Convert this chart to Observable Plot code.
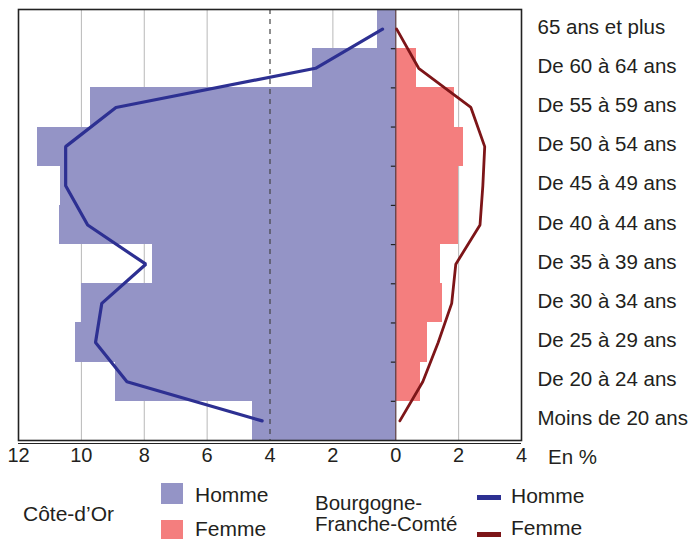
<!DOCTYPE html>
<html><head><meta charset="utf-8">
<script src="https://cdn.jsdelivr.net/npm/d3@7"></script>
<script src="https://cdn.jsdelivr.net/npm/@observablehq/plot@0.6"></script>
<style>
body{margin:0;background:#fff;font-family:"Liberation Sans",Arial,sans-serif;color:#231f20}
#wrap{position:relative;width:694px;height:539px;overflow:hidden}
.t{position:absolute;font-size:21px;white-space:nowrap}
.sw{position:absolute}
</style></head><body><div id="wrap"></div>
<script>
const ages = ["Moins de 20 ans","De 20 à 24 ans","De 25 à 29 ans","De 30 à 34 ans","De 35 à 39 ans","De 40 à 44 ans","De 45 à 49 ans","De 50 à 54 ans","De 55 à 59 ans","De 60 à 64 ans","65 ans et plus"];
const hommeCO  = [4.55, 8.9, 10.2, 10.0, 7.75, 10.7, 10.65, 11.4, 9.7, 2.65, 0.57];
const femmeCO  = [0, 0.8, 1.0, 1.5, 1.43, 2.0, 2.0, 2.17, 1.88, 0.67, 0];
const hommeBFC = [4.25, 8.55, 9.55, 9.35, 7.95, 9.8, 10.5, 10.5, 8.9, 2.55, 0.42];
const femmeBFC = [0.13, 0.86, 1.35, 1.78, 1.91, 2.68, 2.77, 2.83, 2.39, 0.73, 0.03];
const xTicks = [-12,-10,-8,-6,-4,-2,0,2,4];
const gridTicks = [-10,-8,-6,-2,2];
const refTick = [-4];

const data = ages.map((age,i)=>({age,i,hCO:hommeCO[i],fCO:femmeCO[i],hBFC:hommeBFC[i],fBFC:femmeBFC[i]}));
const font = '"Liberation Sans", Arial, sans-serif';

const plot = Plot.plot({
  width:694, height:470, marginLeft:18, marginRight:173, marginTop:9, marginBottom:30,
  style:{fontFamily:font, fontSize:"20px", color:"#231f20", background:"white", overflow:"visible"},
  x:{domain:[-12,4]},
  y:{domain:[0,ages.length]},
  marks:[
    Plot.ruleX(gridTicks,{stroke:"#b8b8b8",strokeWidth:1}),
    Plot.rect(data,{x1:d=>-d.hCO,x2:0,y1:"i",y2:d=>d.i+1,fill:"#9494c6",shapeRendering:"crispEdges"}),
    Plot.rect(data,{x1:0,x2:"fCO",y1:"i",y2:d=>d.i+1,fill:"#f47e7e",shapeRendering:"crispEdges"}),
    Plot.ruleX(refTick,{stroke:"#444",strokeWidth:1.2,strokeDasharray:"5,5"}),
    Plot.ruleX([0],{stroke:"#5a4048",strokeWidth:1.3}),
    Plot.ruleY(d3.range(1,ages.length),{x1:-0.14,x2:0,stroke:"#222",strokeWidth:1.2}),
    Plot.line(data,{x:d=>-d.hBFC,y:d=>d.i+0.5,stroke:"#2d3092",strokeWidth:3.2,strokeLinejoin:"miter"}),
    Plot.line(data,{x:"fBFC",y:d=>d.i+0.5,stroke:"#7d1518",strokeWidth:2.8,strokeLinejoin:"miter"}),
    Plot.frame({stroke:"#222",strokeWidth:1.6}),
    Plot.ruleY([0],{dy:3,stroke:"#222",strokeWidth:1.2}),
    Plot.axisX(xTicks,{tickFormat:d=>Math.abs(d),tickSize:0,tickPadding:7,fontSize:20,label:null}),
    Plot.axisY(ages.map((a,i)=>i+0.5),{anchor:"right",tickSize:0,tickPadding:16,dy:-2,textAnchor:"start",tickFormat:d=>ages[Math.floor(d)],fontSize:20.5,label:null})
  ]
});
const wrap = document.getElementById("wrap");
wrap.appendChild(plot);

function txt(s,x,yc,size,lh){size=size||21;lh=lh||size;const d=document.createElement("div");d.className="t";d.textContent=s;Object.assign(d.style,{left:x+"px",top:(yc-lh/2)+"px",fontSize:size+"px",lineHeight:lh+"px"});wrap.appendChild(d);return d;}
function box(x,y,w,h,c){const d=document.createElement("div");d.className="sw";Object.assign(d.style,{left:x+"px",top:y+"px",width:w+"px",height:h+"px",background:c});wrap.appendChild(d);}
txt("En %",548,457.5,20.5);
txt("Côte-d’Or",23,513.5);
box(161,483,22,21,"#9494c6"); txt("Homme",195,494.5);
box(161,520,22,22,"#f47e7e"); txt("Femme",195,529,21,16);
txt("Bourgogne-",315,502.5,20.5,16);
txt("Franche-Comté",315,524,20.5,16);
box(477,495,24,5,"#2d3092"); txt("Homme",511,495);
box(477,532,24,5,"#7d1518"); txt("Femme",511,527.5,21,12);
</script></body></html>
